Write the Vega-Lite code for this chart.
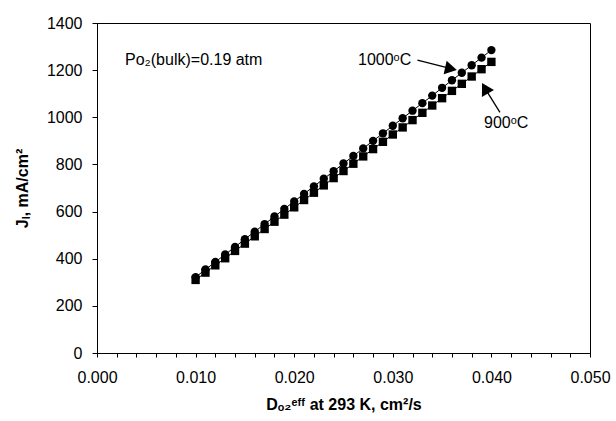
{
  "$schema": "https://vega.github.io/schema/vega-lite/v6.json",
  "width": 493,
  "height": 330,
  "autosize": {"type": "none"},
  "padding": {"left": 97, "top": 23, "right": 26, "bottom": 68},
  "background": "white",
  "config": {
    "view": {"stroke": "black", "strokeWidth": 1},
    "font": "Liberation Sans",
    "axis": {
      "grid": false,
      "domainColor": "black",
      "tickColor": "black",
      "labelColor": "black",
      "titleColor": "black",
      "labelFont": "Liberation Sans",
      "titleFont": "Liberation Sans",
      "labelFontSize": 16,
      "titleFontSize": 16,
      "titleFontWeight": "bold"
    }
  },
  "resolve": {"axis": {"x": "independent"}},
  "datasets": {
    "points": [
      {"x": 0.010, "y": 322, "series": "1000"},
      {"x": 0.011, "y": 354, "series": "1000"},
      {"x": 0.012, "y": 386, "series": "1000"},
      {"x": 0.013, "y": 418, "series": "1000"},
      {"x": 0.014, "y": 450, "series": "1000"},
      {"x": 0.015, "y": 483, "series": "1000"},
      {"x": 0.016, "y": 515, "series": "1000"},
      {"x": 0.017, "y": 547, "series": "1000"},
      {"x": 0.018, "y": 579, "series": "1000"},
      {"x": 0.019, "y": 611, "series": "1000"},
      {"x": 0.020, "y": 643, "series": "1000"},
      {"x": 0.021, "y": 675, "series": "1000"},
      {"x": 0.022, "y": 707, "series": "1000"},
      {"x": 0.023, "y": 739, "series": "1000"},
      {"x": 0.024, "y": 771, "series": "1000"},
      {"x": 0.025, "y": 804, "series": "1000"},
      {"x": 0.026, "y": 836, "series": "1000"},
      {"x": 0.027, "y": 868, "series": "1000"},
      {"x": 0.028, "y": 900, "series": "1000"},
      {"x": 0.029, "y": 932, "series": "1000"},
      {"x": 0.030, "y": 964, "series": "1000"},
      {"x": 0.031, "y": 996, "series": "1000"},
      {"x": 0.032, "y": 1028, "series": "1000"},
      {"x": 0.033, "y": 1060, "series": "1000"},
      {"x": 0.034, "y": 1092, "series": "1000"},
      {"x": 0.035, "y": 1125, "series": "1000"},
      {"x": 0.036, "y": 1157, "series": "1000"},
      {"x": 0.037, "y": 1189, "series": "1000"},
      {"x": 0.038, "y": 1221, "series": "1000"},
      {"x": 0.039, "y": 1253, "series": "1000"},
      {"x": 0.040, "y": 1285, "series": "1000"},
      {"x": 0.010, "y": 310, "series": "900"},
      {"x": 0.011, "y": 341, "series": "900"},
      {"x": 0.012, "y": 372, "series": "900"},
      {"x": 0.013, "y": 402, "series": "900"},
      {"x": 0.014, "y": 433, "series": "900"},
      {"x": 0.015, "y": 464, "series": "900"},
      {"x": 0.016, "y": 495, "series": "900"},
      {"x": 0.017, "y": 526, "series": "900"},
      {"x": 0.018, "y": 557, "series": "900"},
      {"x": 0.019, "y": 587, "series": "900"},
      {"x": 0.020, "y": 618, "series": "900"},
      {"x": 0.021, "y": 649, "series": "900"},
      {"x": 0.022, "y": 680, "series": "900"},
      {"x": 0.023, "y": 711, "series": "900"},
      {"x": 0.024, "y": 742, "series": "900"},
      {"x": 0.025, "y": 772, "series": "900"},
      {"x": 0.026, "y": 803, "series": "900"},
      {"x": 0.027, "y": 834, "series": "900"},
      {"x": 0.028, "y": 865, "series": "900"},
      {"x": 0.029, "y": 896, "series": "900"},
      {"x": 0.030, "y": 927, "series": "900"},
      {"x": 0.031, "y": 957, "series": "900"},
      {"x": 0.032, "y": 988, "series": "900"},
      {"x": 0.033, "y": 1019, "series": "900"},
      {"x": 0.034, "y": 1050, "series": "900"},
      {"x": 0.035, "y": 1081, "series": "900"},
      {"x": 0.036, "y": 1112, "series": "900"},
      {"x": 0.037, "y": 1142, "series": "900"},
      {"x": 0.038, "y": 1173, "series": "900"},
      {"x": 0.039, "y": 1204, "series": "900"},
      {"x": 0.040, "y": 1235, "series": "900"}
    ],
    "labels": [
      {"x": 0.00284, "y": 1242, "text": "Po₂(bulk)=0.19 atm"},
      {"x": 0.02647, "y": 1242, "text": "1000ᵒC"},
      {"x": 0.03925, "y": 974, "text": "900ᵒC"}
    ],
    "arrows": [
      {"x": 0.0325, "y": 1242, "x2": 0.0359, "y2": 1206},
      {"x": 0.04087, "y": 1021, "x2": 0.03935, "y2": 1123}
    ],
    "heads": [
      {"x": 0.0359, "y": 1206, "angle": 12.5},
      {"x": 0.03935, "y": 1123, "angle": 240.6}
    ]
  },
  "layer": [
    {
      "data": {"name": "points"},
      "mark": {"type": "line", "color": "black", "strokeWidth": 1},
      "encoding": {
        "x": {
          "field": "x", "type": "quantitative",
          "scale": {"domain": [0, 0.05], "nice": false, "zero": false},
          "axis": {
            "orient": "bottom",
            "title": "Dₒ₂ᵉᶠᶠ at 293 K, cm²/s",
            "values": [0, 0.01, 0.02, 0.03, 0.04, 0.05],
            "format": ".3f",
            "labelOverlap": false,
            "tickSize": 4,
            "labelPadding": 12,
            "titlePadding": 11,
            "labelFlush": false
          }
        },
        "y": {
          "field": "y", "type": "quantitative",
          "scale": {"domain": [0, 1400], "nice": false},
          "axis": {
            "title": "Jₗ, mA/cm²",
            "values": [0, 200, 400, 600, 800, 1000, 1200, 1400],
            "format": "d",
            "labelOverlap": false,
            "tickSize": 5,
            "labelPadding": 10,
            "titlePadding": 16,
            "labelFlush": false
          }
        },
        "detail": {"field": "series"}
      }
    },
    {
      "data": {"name": "points"},
      "mark": {"type": "point", "filled": true, "color": "black", "opacity": 1, "size": 70},
      "encoding": {
        "x": {
          "field": "x", "type": "quantitative",
          "axis": {
            "orient": "bottom",
            "title": null,
            "labels": false,
            "domain": false,
            "values": [0.002, 0.004, 0.006, 0.008, 0.012, 0.014, 0.016, 0.018, 0.022, 0.024, 0.026, 0.028, 0.032, 0.034, 0.036, 0.038, 0.042, 0.044, 0.046, 0.048],
            "tickSize": 4
          }
        },
        "y": {"field": "y", "type": "quantitative"},
        "shape": {
          "field": "series", "type": "nominal",
          "scale": {"domain": ["1000", "900"], "range": ["circle", "square"]},
          "legend": null
        }
      }
    },
    {
      "data": {"name": "arrows"},
      "mark": {"type": "rule", "color": "black", "strokeWidth": 1.3},
      "encoding": {
        "x": {"field": "x", "type": "quantitative", "axis": null},
        "y": {"field": "y", "type": "quantitative"},
        "x2": {"field": "x2"},
        "y2": {"field": "y2"}
      }
    },
    {
      "data": {"name": "heads"},
      "mark": {"type": "point", "shape": "triangle-right", "filled": true, "color": "black", "opacity": 1, "size": 190},
      "encoding": {
        "x": {"field": "x", "type": "quantitative", "axis": null},
        "y": {"field": "y", "type": "quantitative"},
        "angle": {"field": "angle", "type": "quantitative", "scale": null}
      }
    },
    {
      "data": {"name": "labels"},
      "mark": {"type": "text", "align": "left", "baseline": "middle", "fontSize": 16, "font": "Liberation Sans", "color": "black"},
      "encoding": {
        "x": {"field": "x", "type": "quantitative", "axis": null},
        "y": {"field": "y", "type": "quantitative"},
        "text": {"field": "text"}
      }
    }
  ]
}
